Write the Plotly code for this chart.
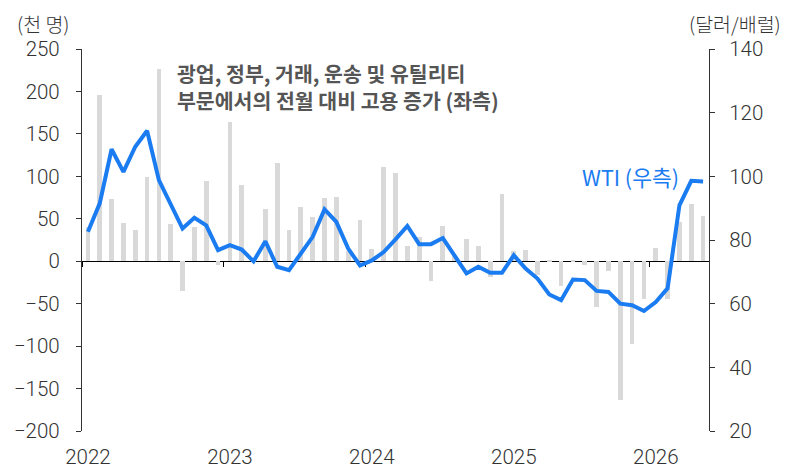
import plotly.graph_objects as go

# Monthly data Jan 2022 .. May 2026
months = list(range(53))
year_labels = ["2022", "2023", "2024", "2025", "2026"]
year_pos = [0, 12, 24, 36, 48]
year_bounds = [-0.5, 11.5, 23.5, 35.5, 47.5]

# Employment change (thousand persons, left axis)
employment = [
    40, 196, 73, 45, 37, 99, 226, 44, -35, 40, 94, -5,
    164, 90, 2, 61, 116, 37, 64, 52, 74, 76, 12, 48,
    14, 111, 104, 18, 29, -23, 42, 7, 26, 18, -19, 79,
    12, 13, -16, 2, -29, 1, -4, -54, -11, -163, -97, -44,
    16, -45, 46, 68, 53,
]

# WTI (USD/bbl, right axis)
wti = [
    82.6, 91.5, 108.5, 101.4, 109.3, 114.3, 98.8, 91.5, 83.6, 87.0, 84.6, 76.8,
    78.4, 77.0, 73.3, 79.6, 71.6, 70.5, 75.8, 81.0, 89.6, 85.7, 77.3, 72.0,
    73.6, 76.2, 80.2, 84.4, 78.7, 78.7, 80.6, 75.2, 69.5, 71.6, 69.7, 69.7,
    75.2, 71.0, 67.9, 62.9, 61.1, 67.6, 67.4, 64.0, 63.7, 60.0, 59.5, 57.7,
    60.5, 64.8, 90.9, 98.6, 98.4,
]

FONT = "Noto Sans CJK KR"
NUMFONT = "Roboto"
TXT = "#333333"
BLUE = "#1a7cf0"

fig = go.Figure()
fig.add_trace(go.Bar(
    x=months, y=employment, xaxis="x", yaxis="y",
    marker=dict(color="#d9d9d9", line=dict(width=0)), width=0.4,
    showlegend=False, hoverinfo="skip",
))
fig.add_trace(go.Scatter(
    x=months, y=wti, xaxis="x2", yaxis="y2", mode="lines",
    line=dict(color=BLUE, width=4), showlegend=False,
))

tickfont = dict(family=NUMFONT, size=20.5, color=TXT, weight=300)
xr = [-0.5, 52.5]
fig.update_layout(
    width=800, height=467,
    margin=dict(l=74, r=99, t=41, b=44, autoexpand=False),
    paper_bgcolor="white", plot_bgcolor="white",
    font=dict(family=FONT, color=TXT, size=19),
    bargap=0,
    xaxis=dict(
        range=xr, tickmode="array", tickvals=year_pos, ticktext=year_labels,
        showgrid=False, zeroline=False, showline=False, ticks="",
        tickfont=tickfont, ticklabelstandoff=11,
        automargin=False,
    ),
    xaxis2=dict(
        range=xr, overlaying="x", anchor="free", position=4 / 9,
        tickmode="array", tickvals=year_bounds, showticklabels=False,
        ticks="outside", ticklen=5, tickcolor="#000000", tickwidth=1,
        showline=True, linecolor="#000000", linewidth=1.3,
        showgrid=False, zeroline=False, layer="below traces", automargin=False,
    ),
    yaxis=dict(
        range=[-200, 250], dtick=50, tick0=0,
        showgrid=False, zeroline=False,
        showline=True, linecolor="#333333", linewidth=1.3,
        ticks="outside", ticklen=5, tickcolor="#333333",
        tickfont=tickfont, ticklabelstandoff=12,
        automargin=False,
    ),
    yaxis2=dict(
        range=[20, 140], dtick=20, tick0=20, overlaying="y", side="right", anchor="x",
        showgrid=False, zeroline=False,
        showline=True, linecolor="#333333", linewidth=1.3,
        ticks="outside", ticklen=5, tickcolor="#333333",
        tickfont=tickfont, ticklabelstandoff=10,
        automargin=False,
    ),
    annotations=[
        dict(text="(천 명)", xref="paper", yref="paper", x=-0.105, y=1.068,
             xanchor="left", yanchor="middle", showarrow=False, borderpad=0,
             font=dict(size=19.5, color=TXT, weight=300)),
        dict(text="(달러/배럴)", xref="paper", yref="paper", x=1.117, y=1.068,
             xanchor="right", yanchor="middle", showarrow=False, borderpad=0,
             font=dict(size=19.5, color=TXT, weight=300)),
        dict(text="광업, 정부, 거래, 운송 및 유틸리티", xref="paper", yref="paper",
             x=0.148, y=0.938, xanchor="left", yanchor="middle", showarrow=False,
             font=dict(size=20.5, color="#555555", weight=700)),
        dict(text="부문에서의 전월 대비 고용 증가 (좌측)", xref="paper", yref="paper",
             x=0.148, y=0.867, xanchor="left", yanchor="middle", showarrow=False,
             font=dict(size=20.5, color="#555555", weight=700)),
        dict(text="WTI (우측)", xref="paper", yref="paper", x=0.956, y=0.665,
             xanchor="right", yanchor="middle", showarrow=False,
             font=dict(size=21.5, color=BLUE, weight=400)),
    ],
)

fig.write_html("out.html")
